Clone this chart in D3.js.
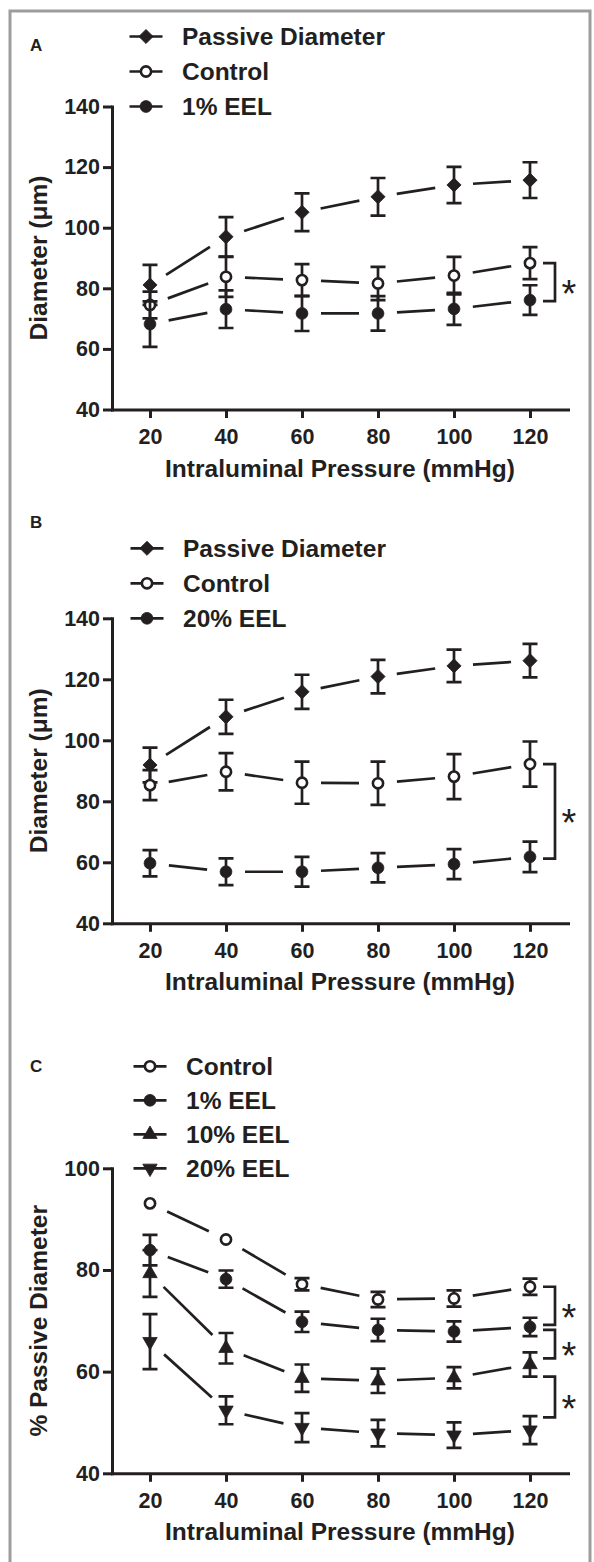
<!DOCTYPE html>
<html>
<head>
<meta charset="utf-8">
<script src="https://cdn.jsdelivr.net/npm/d3@7/dist/d3.min.js"></script>
<style>
  body { margin: 0; background: #fff; }
  text { font-family: "Liberation Sans", Arial, Helvetica, sans-serif; fill: #231f20; }
</style>
</head>
<body>
<div id="fig"></div>
<script>
// x values shared by all three panels
var pressures = [20, 40, 60, 80, 100, 120];

// Panel A - diameter (um), mean and SEM
var aPassive    = [81.1, 97.0, 105.1, 110.2, 114.1, 115.7];
var aPassiveSem = [6.6, 6.5, 6.2, 6.2, 6.0, 5.9];
var aControl    = [74.5, 83.8, 82.7, 81.6, 84.2, 88.3];
var aControlSem = [4.4, 6.6, 5.3, 5.5, 6.2, 5.3];
var aEel1       = [68.2, 73.1, 71.7, 71.7, 73.2, 76.1];
var aEel1Sem    = [7.5, 6.2, 5.8, 5.7, 5.3, 4.9];

// Panel B
var bPassive    = [91.9, 107.7, 115.9, 120.9, 124.4, 126.1];
var bPassiveSem = [5.7, 5.6, 5.6, 5.5, 5.3, 5.5];
var bControl    = [85.3, 89.7, 86.1, 85.9, 88.1, 92.2];
var bControlSem = [4.9, 6.1, 6.9, 7.1, 7.4, 7.4];
var bEel20      = [59.7, 56.9, 56.9, 58.2, 59.4, 61.8];
var bEel20Sem   = [4.3, 4.4, 4.9, 4.8, 4.9, 5.0];

// Panel C - % passive diameter
var cControl    = [93.1, 86.0, 77.2, 74.2, 74.4, 76.7];
var cControlSem = [0, 0, 1.2, 1.5, 1.6, 1.6];
var cEel1       = [83.9, 78.2, 69.8, 68.2, 67.9, 68.8];
var cEel1Sem    = [3.0, 1.7, 2.0, 2.2, 2.0, 1.8];
var cEel10      = [79.3, 64.6, 58.7, 58.2, 58.8, 61.4];
var cEel10Sem   = [4.6, 3.0, 2.7, 2.4, 2.1, 2.4];
var cEel20      = [65.9, 52.4, 49.0, 47.9, 47.5, 48.5];
var cEel20Sem   = [5.4, 2.75, 2.85, 2.6, 2.5, 2.75];

// significance brackets at 120 mmHg: [top value, bottom value]
var aBrackets = [[88.3, 75.8]];
var bBrackets = [[92.2, 61.2]];
var cBrackets = [[76.7, 69.2], [68.2, 62.6], [59.0, 51.0]];

var yTicksAB = [40, 60, 80, 100, 120, 140];
var yTicksC  = [40, 60, 80, 100];

var W = 594, H = 1562;
var ink = '#231f20';

var svg = d3.select('#fig').append('svg')
  .attr('width', W).attr('height', H);

// grey frame round the figure
svg.append('rect')
  .attr('x', 10).attr('y', 11).attr('width', 580).attr('height', 1600)
  .attr('fill', 'none').attr('stroke', '#9d9d9d').attr('stroke-width', 3);

var x = d3.scaleLinear().domain([10, 130]).range([112, 568]);

// marker shapes
var sym = {
  diamond:  { type: d3.symbolSquare,   size: 100, rot: 45,  fill: ink },
  open:     { type: d3.symbolCircle,   size: 82,  rot: 0,   fill: '#fff' },
  dot:      { type: d3.symbolCircle,   size: 109, rot: 0,   fill: ink },
  triUp:    { type: d3.symbolTriangle, size: 90,  rot: 0,   fill: ink },
  triDown:  { type: d3.symbolTriangle, size: 90,  rot: 180, fill: ink }
};

function marker(g, s, cx, cy) {
  g.append('path')
    .attr('d', d3.symbol().type(s.type).size(s.size)())
    .attr('transform', 'translate(' + cx + ',' + cy + ') rotate(' + s.rot + ')')
    .attr('fill', s.fill)
    .attr('stroke', ink)
    .attr('stroke-width', s.fill === '#fff' ? 2.6 : 0.8);
}

var panels = [
  { label: 'A', labelY: 51, yDomain: [40, 140], range: [409.5, 106.5], ticks: yTicksAB,
    title: 'Diameter (\u03bcm)', step: 35, lx: 146, brackets: aBrackets,
    series: [
      { name: 'Passive Diameter', v: aPassive, e: aPassiveSem, s: 'diamond' },
      { name: 'Control', v: aControl, e: aControlSem, s: 'open' },
      { name: '1% EEL', v: aEel1, e: aEel1Sem, s: 'dot' }
    ] },
  { label: 'B', labelY: 528, yDomain: [40, 140], range: [923.3, 618.3], ticks: yTicksAB,
    title: 'Diameter (\u03bcm)', step: 35, lx: 147, brackets: bBrackets,
    series: [
      { name: 'Passive Diameter', v: bPassive, e: bPassiveSem, s: 'diamond' },
      { name: 'Control', v: bControl, e: bControlSem, s: 'open' },
      { name: '20% EEL', v: bEel20, e: bEel20Sem, s: 'dot' }
    ] },
  { label: 'C', labelY: 1072, yDomain: [40, 100], range: [1473.3, 1168.3], ticks: yTicksC,
    title: '% Passive Diameter', step: 34, lx: 150, brackets: cBrackets,
    series: [
      { name: 'Control', v: cControl, e: cControlSem, s: 'open' },
      { name: '1% EEL', v: cEel1, e: cEel1Sem, s: 'dot' },
      { name: '10% EEL', v: cEel10, e: cEel10Sem, s: 'triUp' },
      { name: '20% EEL', v: cEel20, e: cEel20Sem, s: 'triDown' }
    ] }
];

var gap = 19, cap = 7.5;

panels.forEach(function(p) {
  var y = d3.scaleLinear().domain(p.yDomain).range(p.range);
  var g = svg.append('g');

  // axes
  var ya = g.append('g')
    .attr('transform', 'translate(' + x.range()[0] + ',0)')
    .call(d3.axisLeft(y).tickValues(p.ticks).tickSize(9).tickSizeOuter(0).tickPadding(3));
  var xa = g.append('g')
    .attr('transform', 'translate(0,' + p.range[0] + ')')
    .call(d3.axisBottom(x).tickValues(pressures).tickSize(8.5).tickSizeOuter(0).tickPadding(11));
  [ya, xa].forEach(function(a) {
    a.select('.domain').attr('stroke', ink).attr('stroke-width', 3).attr('stroke-linecap', 'square');
    a.selectAll('.tick line').attr('stroke', ink).attr('stroke-width', 3);
    a.selectAll('.tick text').attr('fill', ink)
      .style('font-size', '21.5px').style('font-weight', 'bold')
      .style('font-family', '"Liberation Sans", Arial, sans-serif');
  });

  // axis titles
  g.append('text')
    .attr('x', (x.range()[0] + x.range()[1]) / 2)
    .attr('y', p.range[0] + 67)
    .attr('text-anchor', 'middle')
    .style('font-size', '24.5px').style('font-weight', 'bold')
    .text('Intraluminal Pressure (mmHg)');
  g.append('text')
    .attr('transform', 'translate(46.6,' + (p.range[0] + p.range[1]) / 2 + ') rotate(-90)')
    .attr('text-anchor', 'middle')
    .style('font-size', '24.5px').style('font-weight', 'bold')
    .text(p.title);

  // panel letter
  g.append('text')
    .attr('x', 30).attr('y', p.labelY)
    .style('font-size', '17px').style('font-weight', 'bold')
    .text(p.label);

  // data
  p.series.forEach(function(s) {
    var pts = pressures.map(function(d, i) { return [x(d), y(s.v[i])]; });

    // connecting segments, stopped short of each marker
    g.selectAll(null)
      .data(d3.pairs(pts))
      .join('line')
      .attr('x1', function(d) { var L = Math.hypot(d[1][0] - d[0][0], d[1][1] - d[0][1]); return d[0][0] + gap * (d[1][0] - d[0][0]) / L; })
      .attr('y1', function(d) { var L = Math.hypot(d[1][0] - d[0][0], d[1][1] - d[0][1]); return d[0][1] + gap * (d[1][1] - d[0][1]) / L; })
      .attr('x2', function(d) { var L = Math.hypot(d[1][0] - d[0][0], d[1][1] - d[0][1]); return d[1][0] - gap * (d[1][0] - d[0][0]) / L; })
      .attr('y2', function(d) { var L = Math.hypot(d[1][0] - d[0][0], d[1][1] - d[0][1]); return d[1][1] - gap * (d[1][1] - d[0][1]) / L; })
      .attr('stroke', ink).attr('stroke-width', 2.7);

    // error bars
    pressures.forEach(function(d, i) {
      if (!s.e[i]) return;
      var cx = x(d), t = y(s.v[i] + s.e[i]), b = y(s.v[i] - s.e[i]);
      g.append('path')
        .attr('d', 'M' + cx + ',' + t + 'V' + b + 'M' + (cx - cap) + ',' + t + 'H' + (cx + cap) + 'M' + (cx - cap) + ',' + b + 'H' + (cx + cap))
        .attr('fill', 'none').attr('stroke', ink).attr('stroke-width', 2.7);
    });

    pts.forEach(function(pt) { marker(g, sym[s.s], pt[0], pt[1]); });
  });

  // legend
  var n = p.series.length;
  p.series.forEach(function(s, i) {
    var ly = p.range[1] - (n - 1 - i) * p.step;
    g.append('line')
      .attr('x1', p.lx - 16.5).attr('x2', p.lx + 16.5)
      .attr('y1', ly).attr('y2', ly)
      .attr('stroke', ink).attr('stroke-width', 2.7);
    marker(g, sym[s.s], p.lx, ly);
    g.append('text')
      .attr('x', p.lx + 36).attr('y', ly + 8.5)
      .style('font-size', '24.5px').style('font-weight', 'bold')
      .text(s.name);
  });

  // significance brackets
  p.brackets.forEach(function(br) {
    var t = y(br[0]), b = y(br[1]);
    g.append('path')
      .attr('d', 'M543,' + t + 'H555V' + b + 'H543')
      .attr('fill', 'none').attr('stroke', ink).attr('stroke-width', 2.7);
    g.append('text')
      .attr('x', 569).attr('y', (t + b) / 2 + 4 + 21)
      .attr('text-anchor', 'middle')
      .style('font-size', '38px')
      .text('*');
  });
});
</script>
</body>
</html>
